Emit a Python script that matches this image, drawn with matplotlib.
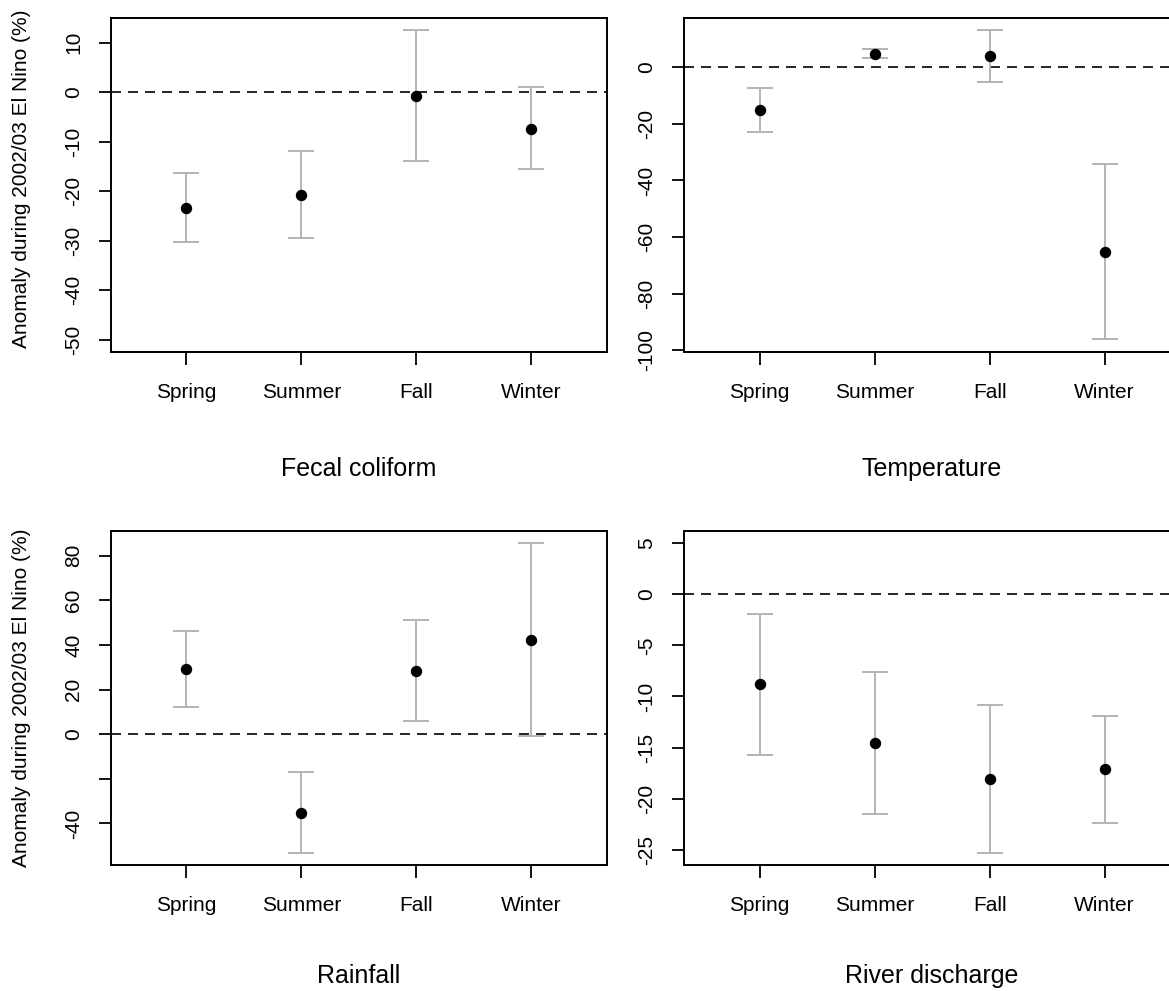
import numpy as np
import matplotlib
matplotlib.use('Agg')
import matplotlib.pyplot as plt

plt.rcParams['font.family'] = ['Liberation Sans', 'DejaVu Sans']

seasons = ['Spring', 'Summer', 'Fall', 'Winter']

# mean anomaly and interval ends
fecal_mean = [-23.3, -20.7, -0.7, -7.35]
fecal_lo = [-30.2, -29.5, -13.8, -15.6]
fecal_hi = [-16.3, -11.8, 12.5, 1.0]

temp_mean = [-15.1, 4.8, 3.9, -65.3]
temp_lo = [-22.8, 3.4, -5.3, -96.1]
temp_hi = [-7.3, 6.5, 13.2, -34.3]

rain_mean = [29.1, -35.1, 28.5, 42.2]
rain_lo = [12.1, -53.1, 5.9, -0.8]
rain_hi = [46.4, -16.9, 51.3, 85.6]

river_mean = [-8.8, -14.6, -18.1, -17.1]
river_lo = [-15.7, -21.5, -25.3, -22.4]
river_hi = [-1.9, -7.6, -10.8, -11.9]

panels = [
    ('Fecal coliform', fecal_mean, fecal_lo, fecal_hi, (-52.5, 15.0), [10, 0, -10, -20, -30, -40, -50], None),
    ('Temperature', temp_mean, temp_lo, temp_hi, (-100.6, 17.4), [0, -20, -40, -60, -80, -100], None),
    ('Rainfall', rain_mean, rain_lo, rain_hi, (-58.6, 91.0), [80, 60, 40, 20, 0, -20, -40],
     ['80', '60', '40', '20', '0', '', '-40']),
    ('River discharge', river_mean, river_lo, river_hi, (-26.5, 6.2), [5, 0, -5, -10, -15, -20, -25], None),
]

W, H = 1169, 991
fig = plt.figure(figsize=(W / 100, H / 100), dpi=100)

# axes boxes in pixels: left, top, right, bottom
boxes = [
    (110.5, 18, 607, 352),
    (683.7, 18, 1180.5, 352),
    (110.5, 531, 607, 865),
    (683.7, 531, 1180.5, 865),
]

x = np.arange(1, 5)
for i, (title, mean, lo, hi, ylim, yticks, ylabels) in enumerate(panels):
    l, t, r, b = boxes[i]
    ax = fig.add_axes([l / W, 1 - b / H, (r - l) / W, (b - t) / H])
    mean = np.array(mean)
    lo = np.array(lo)
    hi = np.array(hi)
    ax.axhline(0, color='black', lw=1.2, dashes=(6, 4.2), zorder=1)
    ax.errorbar(x, mean, yerr=[mean - lo, hi - mean], fmt='none', ecolor='#b4b4b4',
                elinewidth=1.4, capsize=9.2, capthick=1.4, zorder=2)
    ax.plot(x, mean, 'o', color='black', ms=7.2, zorder=3)
    ax.set_xlim(0.34, 4.66)
    ax.set_ylim(*ylim)
    ax.set_xticks(x)
    ax.set_xticklabels(seasons, fontsize=15)
    ax.set_yticks(yticks)
    if ylabels is None:
        ylabels = [str(v) for v in yticks]
    ax.set_yticklabels(ylabels, fontsize=15, rotation=90, va='center')
    ax.tick_params(axis='both', length=9, width=1.3, direction='out')
    ax.tick_params(axis='x', pad=13.5)
    ax.tick_params(axis='y', pad=10.5)
    for s in ax.spines.values():
        s.set_linewidth(1.4)
    # bottom row titles sit a little higher so they stay inside the figure
    ty = -84.5 if i < 2 else -80
    ax.annotate(title, xy=(0.5, 0), xycoords='axes fraction', xytext=(0, ty),
                textcoords='offset points', ha='center', va='center', fontsize=18)
    if i % 2 == 0:
        dy = 4.3 if i == 0 else 0
        ax.annotate('Anomaly during 2002/03 El Nino (%)', xy=(0, 0.5), xycoords='axes fraction',
                    xytext=(-64, dy), textcoords='offset points', ha='center', va='center',
                    rotation=90, fontsize=15)

fig.savefig('out.png', dpi=100)
